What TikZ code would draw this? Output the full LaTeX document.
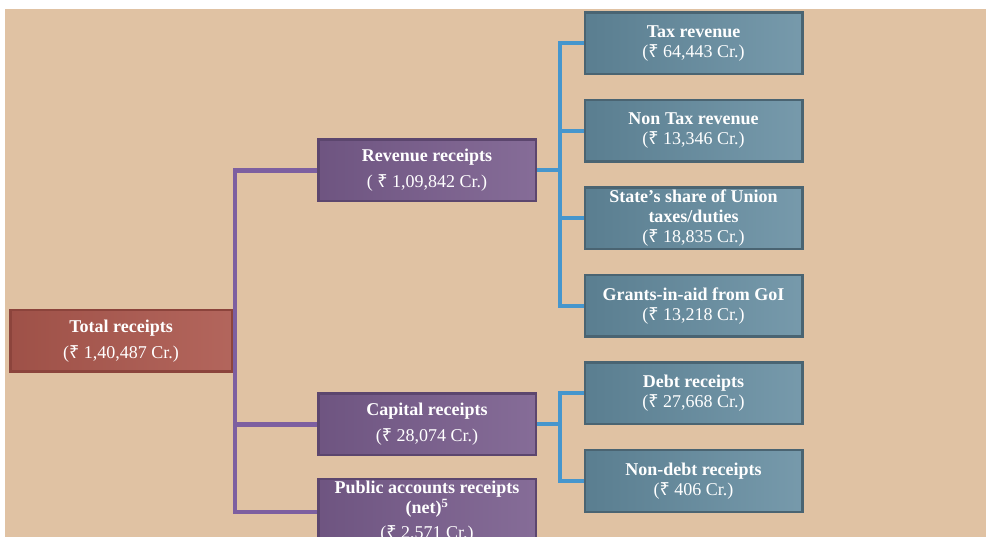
\documentclass[tikz,border=0pt]{standalone}
\usepackage{fontspec}
\setmainfont{Liberation Serif}
\newfontfamily\rupeefont{Noto Sans}
\newcommand{\inr}{{\rupeefont\symbol{"20B9}}}
\usetikzlibrary{positioning}
\definecolor{bgtan}{RGB}{224,194,163}
\definecolor{redbox}{RGB}{172,88,78}
\definecolor{rededge}{RGB}{140,68,60}
\definecolor{purplebox}{RGB}{120,92,140}
\definecolor{purpleedge}{RGB}{92,70,110}
\definecolor{bluebox}{RGB}{100,140,160}
\definecolor{blueedge}{RGB}{74,100,114}
\definecolor{purpleline}{RGB}{125,95,160}
\definecolor{blueline}{RGB}{70,150,205}
\begin{document}
\begin{tikzpicture}[x=1pt, y=1pt, node distance={23.5pt},
  main/.style = {draw, line width=2.5pt, text=white, align=center, font=\fontsize{18}{20}\selectfont, minimum width=217.5pt, minimum height=61.5pt, inner sep=2pt},
  total/.style = {main, left color=redbox!92!black, right color=redbox!92!white, draw=rededge, minimum width=221.5pt},
  mid/.style = {main, left color=purplebox!92!black, right color=purplebox!90!white, draw=purpleedge},
  leaf/.style = {main, left color=bluebox!90!black, right color=bluebox!88!white, draw=blueedge},
  trunk/.style = {draw=purpleline, line width=4.5pt},
  twig/.style = {draw=blueline, line width=4pt}]
\useasboundingbox (0,0) rectangle (989,-537);
\fill[bgtan] (5,-9) rectangle (986,-537);

\node[total] (1) at (121,-341) {\textbf{Total receipts}\\[6pt](\inr{} 1,40,487 Cr.)};
\node[mid] (2) at (427,-170.5) {\textbf{Revenue receipts}\\[6pt]( \inr{} 1,09,842 Cr.)};
\node[mid] (3) at (427,-424.5) {\textbf{Capital receipts}\\[6pt](\inr{} 28,074 Cr.)};
\node[mid, anchor=north] (4) at (427,-478) {\textbf{Public accounts receipts}\\\textbf{(net)\textsuperscript{5}}\\[5pt](\inr{} 2,571 Cr.)};

\node[leaf] (5) at (693.5,-43.5) {\textbf{Tax revenue}\\(\inr{} 64,443 Cr.)};
\node[leaf] (6) [below=of 5] {\textbf{Non Tax revenue}\\(\inr{} 13,346 Cr.)};
\node[leaf] (7) [below=of 6] {\textbf{State's share of Union}\\\textbf{taxes/duties}\\(\inr{} 18,835 Cr.)};
\node[leaf] (8) [below=of 7] {\textbf{Grants-in-aid from GoI}\\(\inr{} 13,218 Cr.)};
\node[leaf] (9) [below=of 8] {\textbf{Debt receipts}\\(\inr{} 27,668 Cr.)};
\node[leaf] (10) [below=of 9] {\textbf{Non-debt receipts}\\(\inr{} 406 Cr.)};

\coordinate (j) at (235,-341);
\coordinate (k) at (560,-170.5);
\coordinate (m) at (560,-424.5);

\draw[trunk] (1.east) -- (j);
\draw[trunk] (2.west) -| (j) |- (4.west);
\draw[trunk] (j) |- (3.west);

\draw[twig] (2.east) -- (k);
\draw[twig] (5.west) -| (k) |- (8.west);
\draw[twig] (k |- 6) -- (6.west);
\draw[twig] (k |- 7) -- (7.west);

\draw[twig] (3.east) -- (m);
\draw[twig] (9.west) -| (m) |- (10.west);
\end{tikzpicture}
\end{document}
